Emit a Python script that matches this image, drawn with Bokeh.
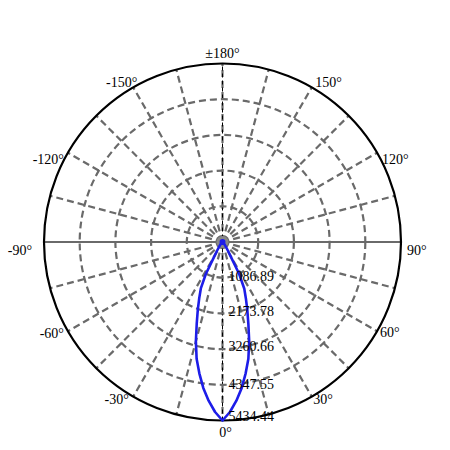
import numpy as np
from bokeh.plotting import figure
from bokeh.models import Range1d, ColumnDataSource
from bokeh.core.properties import value
from bokeh.embed import file_html
from bokeh.resources import INLINE

# ---- data ----
ring_values = [1086.89, 2173.78, 3260.66, 4347.55, 5434.44]
ring_labels = ["1086.89", "2173.78", "3260.66", "4347.55", "5434.44"]

angle_ticks = [0, 30, 60, 90, 120, 150, 180, -150, -120, -90, -60, -30]
angle_labels = ["0°", "30°", "60°", "90°", "120°", "150°", "±180°",
                "-150°", "-120°", "-90°", "-60°", "-30°"]

spoke_step = 15

beam_angles = [-180, -150, -120, -90, -75, -60, -50, -45, -40, -37.5, -35, -32.5,
               -30, -27.5, -25, -22.5, -20, -17.5, -15, -12.5, -10, -7.5, -5, -2.5,
               0, 2.5, 5, 7.5, 10, 12.5, 15, 17.5, 20, 22.5, 25, 27.5, 30, 32.5,
               35, 37.5, 40, 45, 50, 60, 75, 90, 120, 150, 180]
beam_values = [0, 0, 0, 2, 5, 12, 25, 45, 90, 130, 190, 280,
               460, 1100, 1560, 1850, 2200, 2610, 3130, 3640, 4060, 4480, 4850, 5180,
               5434.44, 5180, 4850, 4480, 4060, 3640, 3140, 2620, 2210, 1860, 1570, 1100, 460, 280,
               190, 130, 95, 45, 25, 12, 5, 2, 0, 0, 0]

# ---- geometry (pixels) ----
W, H = 442, 442
cx_px, cy_px = 222.0, 241.5
R_px = 178.5
rmax = ring_values[-1]
u = rmax / R_px  # data units per pixel

p = figure(width=W, height=H, output_backend="svg", toolbar_location=None,
           x_range=Range1d(-cx_px * u, (W - cx_px) * u),
           y_range=Range1d(-(H - cy_px) * u, cy_px * u),
           min_border=0)
p.axis.visible = False
p.grid.visible = False
p.outline_line_color = None
p.background_fill_color = "white"
p.border_fill_color = "white"

def pol(r, deg):
    t = np.radians(deg)
    return r * np.sin(t), -r * np.cos(t)

grid_col = "#6a6a6a"

# spokes (dashed) except horizontal
xs, ys = [], []
for a in range(-180, 180, spoke_step):
    if a in (90, -90):
        continue
    x1, y1 = pol(rmax, a)
    xs.append([0, x1])
    ys.append([0, y1])
p.multi_line(xs, ys, line_color=grid_col, line_width=2.2, line_dash="7 4")

# horizontal solid line
hx0, hy0 = pol(rmax, -90)
hx1, hy1 = pol(rmax, 90)
p.line([hx0, hx1], [hy0, hy1], line_color=grid_col, line_width=2.2)

# thin black dashed vertical axis
vx0, vy0 = pol(rmax, 0)
vx1, vy1 = pol(rmax, 180)
p.line([vx0, vx1], [vy0, vy1], line_color="black", line_width=1, line_dash="4 3")

# dashed rings
p.circle(x=[0] * 4, y=[0] * 4, radius=ring_values[:4], fill_color=None,
         line_color=grid_col, line_width=2.2, line_dash="7 4")
# outer ring
p.circle(x=[0], y=[0], radius=[rmax], fill_color=None, line_color="black", line_width=2.2)

# center gray dot
p.scatter(x=[0], y=[0], size=12, fill_color="#888888", line_color=None)

# beam curve
bx, by = pol(np.array(beam_values, dtype=float), np.array(beam_angles, dtype=float))
p.line(bx, by, line_color="#1d1de8", line_width=2.6, line_join="round")
p.scatter(x=[0], y=[0], size=6, fill_color="#1d1de8", line_color=None)

# ring labels
ring_dy = [-2, -2, -3, -1, -5]
p.text(x=[0] * 5, y=[-v for v in ring_values], text=ring_labels,
       x_offset=[6] * 5, y_offset=ring_dy,
       text_align="left", text_baseline="middle",
       text_font=value("Liberation Serif"), text_font_size="14px", text_color="black")

# angle labels
lab_align = ["center", "left", "left", "left", "left", "left", "center",
             "right", "right", "right", "right", "right"]
lab_dx = [3, 1.5, 3, 6, 5, 3.5, 0, 4, -4, -12, -4, -4.5]
lab_dy = [11.5, 2.5, 1, 8, 7, -4.5, -10.5, -4.5, 7, 8.5, 2, 2.5]
axl, ayl = pol(rmax, np.array(angle_ticks, dtype=float))
src = ColumnDataSource(dict(x=axl, y=ayl, t=angle_labels, al=lab_align, dx=lab_dx, dy=lab_dy))
p.text(x="x", y="y", text="t", x_offset="dx", y_offset="dy", text_align="al",
       text_baseline="middle", source=src,
       text_font=value("Liberation Serif"), text_font_size="14px", text_color="black")

open("out.html", "w").write(file_html(p, INLINE))
